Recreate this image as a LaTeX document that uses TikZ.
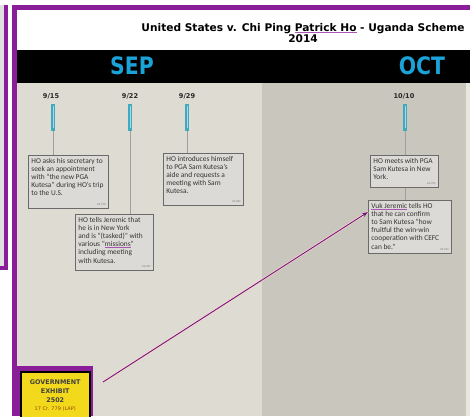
\documentclass[tikz,border=0pt]{standalone}
\usepackage{fontspec}
\setmainfont{Carlito}
\newfontfamily\titlefont{DejaVu Sans}
\usetikzlibrary{arrows.meta}
\definecolor{purp}{HTML}{8A1E99}
\definecolor{monthc}{HTML}{1AA3D9}
\definecolor{bgl}{HTML}{DEDBD3}
\definecolor{bgr}{HTML}{C9C6BD}
\definecolor{boxf}{HTML}{DCDAD6}
\definecolor{boxd}{HTML}{6A6A6A}
\definecolor{txt}{HTML}{333333}
\definecolor{tickc}{HTML}{3FA9C0}
\definecolor{yel}{HTML}{F2D91C}
\newcommand\purpul[1]{\leavevmode\setbox0\hbox{#1}\rlap{\color{purp!75}\rule[-1.3pt]{\wd0}{0.6pt}}\box0\relax}
\newcommand\evtext[3]{\parbox[c][#2][t]{#1}{\raggedright #3}}
\tikzset{
  evbox/.style={draw=boxd, line width=0.8pt, fill=boxf, anchor=north west, inner xsep=3pt, inner ysep=2.5pt,
    font=\fontsize{7.4}{8.2}\selectfont, text=txt},
  refl/.style={font=\fontsize{3}{3}\selectfont, text=gray, anchor=south east, inner sep=0pt},
  datelbl/.style={font=\titlefont\bfseries\fontsize{6.6}{7}\selectfont, text=black!85},
  tickbar/.style={fill=tickc, draw=none, minimum width=3.5pt, minimum height=27pt, inner sep=0pt},
  stem/.style={draw=gray!75, line width=0.5pt},
  month/.style={font=\titlefont\bfseries\fontsize{24}{24}\selectfont, text=monthc},
}
\begin{document}
\begin{tikzpicture}[x=1pt,y=-1pt]
\useasboundingbox (0,0) rectangle (470,416);
\fill[white] (0,0) rectangle (470,416);
% left panel
\fill[gray!25] (0,5) rectangle (8,270);
\fill[purp] (4,5) rectangle (8,270);
\fill[purp] (0,266) rectangle (8,270);
% main panel
\fill[purp] (12,5) rectangle (470,416);
\fill[white] (17,10) rectangle (470,50);
\fill[black] (17,50) rectangle (470,83);
\fill[bgl] (17,83) rectangle (262,416);
\fill[bgr] (262,83) rectangle (466,416);
\fill[bgl!70!white] (466,83) rectangle (470,416);
% title
\node[font=\titlefont\bfseries\fontsize{10.6}{10.5}\selectfont, align=center] (title) at (303,33)
  {United States v. Chi Ping \purpul{Patrick Ho} - Uganda Scheme\\2014};
% months
\node[month] (sep) at (132,66) {\scalebox{0.85}[1]{SEP}};
\node[month] (oct) at (422,66) {\scalebox{0.85}[1]{OCT}};
% dates
\node[datelbl] (d1) at (51,96) {9/15};
\node[datelbl] (d2) at (130,96) {9/22};
\node[datelbl] (d3) at (187,96) {9/29};
\node[datelbl] (d4) at (404,96) {10/10};
% ticks
\node[tickbar] (t1) at (53,117) {};
\node[tickbar] (t2) at (130,117) {};
\node[tickbar] (t3) at (187,117) {};
\node[tickbar] (t4) at (405,117) {};
\foreach \t in {t1,t2,t3,t4}{\fill[white!55!tickc] ([xshift=-0.5pt,yshift=-3pt]\t.north) rectangle ([xshift=0.5pt,yshift=3pt]\t.south);}
% boxes
\node[evbox] (b1) at (28,155)
 {\evtext{74pt}{48pt}{HO asks his secretary to\\seek an appointment\\with ``the new PGA\\Kutesa'' during HO's trip\\to the U.S.}};
\node[refl] (r1) at ([xshift=-3pt,yshift=3pt]b1.south east) {GX 270};
\node[evbox] (b2) at (75,214)
 {\evtext{72pt}{51pt}{HO tells Jeremic that\\he is in New York\\and is ``(tasked)'' with\\various ``\purpul{missions}''\\including meeting\\with Kutesa.}};
\node[refl] (r2) at ([xshift=-3pt,yshift=3pt]b2.south east) {GX 287};
\node[evbox] (b3) at (163,153)
 {\evtext{74pt}{47pt}{HO introduces himself\\to PGA Sam Kutesa's\\aide and requests a\\meeting with Sam\\Kutesa.}};
\node[refl] (r3) at ([xshift=-3pt,yshift=3pt]b3.south east) {GX 282};
\node[evbox] (b4) at (370,155)
 {\evtext{62pt}{27pt}{HO meets with PGA\\Sam Kutesa in New\\York.}};
\node[refl] (r4) at ([xshift=-3pt,yshift=3pt]b4.south east) {GX 292};
\node[evbox] (b5) at (368,200)
 {\evtext{77pt}{48pt}{\purpul{Vuk Jeremic} tells HO\\that he can confirm\\to Sam Kutesa ``how\\fruitful the win-win\\cooperation with CEFC\\can be.''}};
\node[refl] (r5) at ([xshift=-3pt,yshift=3pt]b5.south east) {GX 294};
% stems
\draw[stem] (t1.south) -- (t1.south |- b1.north);
\draw[stem] (t2.south) -- (t2.south |- b2.north);
\draw[stem] (t3.south) -- (t3.south |- b3.north);
\draw[stem] (t4.south) -- (t4.south |- b4.north);
\draw[stem] (t4.south |- b4.south) -- (t4.south |- b5.north);
% exhibit
\fill[purp] (15,366) rectangle (93,416);
\node[draw=black, line width=1.5pt, fill=yel, anchor=north west, minimum width=69pt, minimum height=48pt, inner sep=1pt, align=center,
  font=\titlefont\bfseries\fontsize{6.4}{8.6}\selectfont, text=black!75] (ex) at (20,371)
  {GOVERNMENT\\EXHIBIT\\2502\\{\mdseries\color{orange!60!black}\fontsize{5}{5}\selectfont 17 Cr. 779 (LAP)}};
% arrow
\coordinate (astart) at (103,382);
\draw[pink!70, line width=2.2pt] (astart) -- ([yshift=-12pt]b5.north west);
\draw[purp!80!black, line width=0.9pt, -{Stealth[length=6pt,width=4pt]}] (astart) -- ([yshift=-12pt]b5.north west);
\end{tikzpicture}
\end{document}
